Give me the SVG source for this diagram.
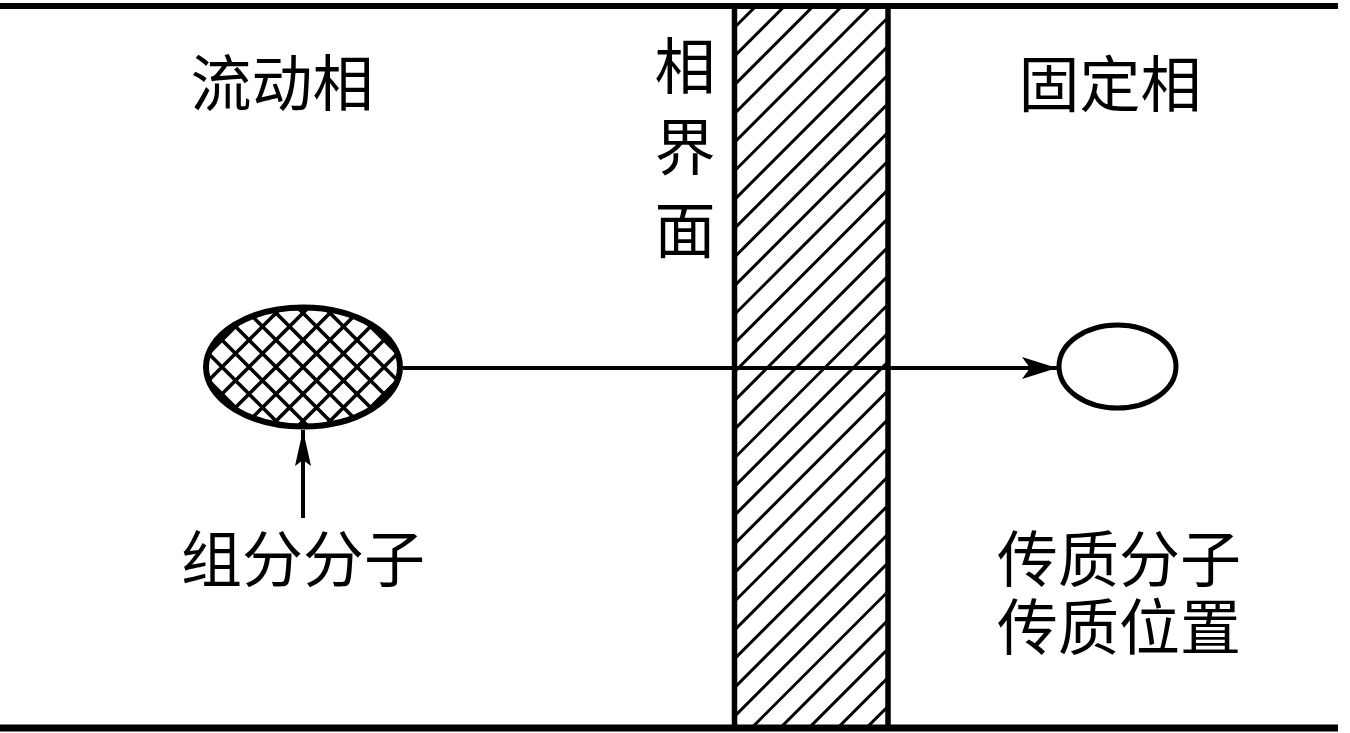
<svg xmlns="http://www.w3.org/2000/svg" width="1350" height="733" viewBox="0 0 1350 733">
  <style>
    .lbl { font-family: "Liberation Serif", "Noto Sans CJK SC", serif; font-size: 61px; fill: #000; text-anchor: middle; }
    .wall { stroke: #000; fill: none; }
    .conn { stroke: #000; stroke-width: 4; fill: none; }
    .hatch { stroke: #000; stroke-width: 3; fill: none; }
    .cross { stroke: #000; stroke-width: 3.6; fill: none; }
  </style>
  <defs>
    <clipPath id="bandClip"><rect x="734.5" y="6" width="153.5" height="722"/></clipPath>
    <clipPath id="ellClip"><ellipse cx="303" cy="367" rx="97" ry="59.5"/></clipPath>
    <marker id="arr" markerUnits="userSpaceOnUse" markerWidth="40" markerHeight="26" viewBox="0 0 40 26" refX="36" refY="13" orient="auto">
      <path d="M36,13 L1,2 L9,13 L1,24 Z" fill="#000"/>
    </marker>
    <marker id="arr2" markerUnits="userSpaceOnUse" markerWidth="40" markerHeight="20" viewBox="0 0 40 20" refX="37" refY="10" orient="auto">
      <path d="M37,10 L1,2 L7,10 L1,18 Z" fill="#000"/>
    </marker>
  </defs>
  <rect width="1350" height="733" fill="#fff"/>

  <g id="walls">
    <line class="wall" x1="0" y1="6" x2="1338" y2="6" stroke-width="6"/>
    <line class="wall" x1="0" y1="728" x2="1338" y2="728" stroke-width="7"/>
  </g>

  <g id="interface">
    <path class="hatch" clip-path="url(#bandClip)" d="M700,33.3 L920,-186.7 M700,62 L920,-158 M700,90.7 L920,-129.3 M700,119.4 L920,-100.6 M700,148.1 L920,-71.9 M700,176.8 L920,-43.2 M700,205.5 L920,-14.5 M700,234.2 L920,14.2 M700,262.9 L920,42.9 M700,291.6 L920,71.6 M700,320.3 L920,100.3 M700,349 L920,129 M700,377.7 L920,157.7 M700,406.4 L920,186.4 M700,435.1 L920,215.1 M700,463.8 L920,243.8 M700,492.5 L920,272.5 M700,521.2 L920,301.2 M700,549.9 L920,329.9 M700,578.6 L920,358.6 M700,607.3 L920,387.3 M700,636 L920,416 M700,664.7 L920,444.7 M700,693.4 L920,473.4 M700,722.1 L920,502.1 M700,750.8 L920,530.8 M700,779.5 L920,559.5 M700,808.2 L920,588.2 M700,836.9 L920,616.9 M700,865.6 L920,645.6 M700,894.3 L920,674.3 M700,923 L920,703 M700,951.7 L920,731.7"/>
    <line class="wall" x1="734.5" y1="3" x2="734.5" y2="731" stroke-width="5.5"/>
    <line class="wall" x1="888" y1="3" x2="888" y2="731" stroke-width="5.5"/>
  </g>

  <g id="connectors">
    <line class="conn" x1="403" y1="368" x2="1057" y2="368" marker-end="url(#arr)"/>
    <line class="conn" x1="303" y1="518" x2="303" y2="430" marker-end="url(#arr2)"/>
  </g>

  <g id="component-molecule">
    <ellipse cx="303" cy="367" rx="97" ry="59.5" fill="#fff"/>
    <path class="cross" clip-path="url(#ellClip)" d="M190,318 L420,88 M190,345 L420,115 M190,372 L420,142 M190,399 L420,169 M190,426 L420,196 M190,453 L420,223 M190,480 L420,250 M190,507 L420,277 M190,534 L420,304 M190,561 L420,331 M190,588 L420,358 M190,615 L420,385 M190,642 L420,412 M190,416 L420,646 M190,389 L420,619 M190,362 L420,592 M190,335 L420,565 M190,308 L420,538 M190,281 L420,511 M190,254 L420,484 M190,227 L420,457 M190,200 L420,430 M190,173 L420,403 M190,146 L420,376 M190,119 L420,349 M190,92 L420,322"/>
    <ellipse cx="303" cy="367" rx="97" ry="59.5" fill="none" stroke="#000" stroke-width="6"/>
  </g>

  <g id="site">
    <ellipse cx="1117.5" cy="366.5" rx="58.5" ry="41.5" fill="#fff" stroke="#000" stroke-width="5"/>
  </g>

  <g id="label-mobile">
    <text class="lbl" x="282" y="106">流动相</text>
  </g>
  <g id="label-interface">
    <text class="lbl" x="685" y="89">相</text>
    <text class="lbl" x="685" y="170">界</text>
    <text class="lbl" x="685" y="253">面</text>
  </g>
  <g id="label-stationary">
    <text class="lbl" x="1110" y="107">固定相</text>
  </g>
  <g id="label-component">
    <text class="lbl" x="303" y="582">组分分子</text>
  </g>
  <g id="label-transfer">
    <text class="lbl" x="1119" y="582">传质分子</text>
    <text class="lbl" x="1119" y="650">传质位置</text>
  </g>
</svg>
